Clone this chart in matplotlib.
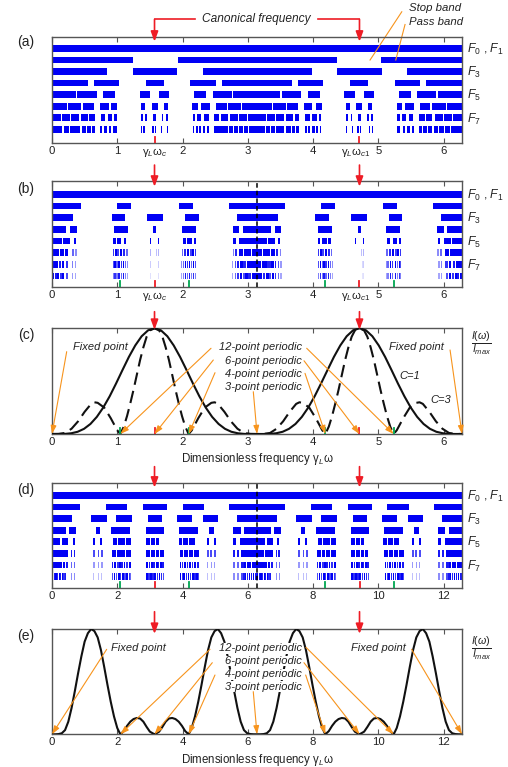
import numpy as np
import matplotlib
matplotlib.use('Agg')
import matplotlib.pyplot as plt
from matplotlib.transforms import blended_transform_factory as btf

plt.rcParams['font.family'] = ['Liberation Sans', 'DejaVu Sans']
plt.rcParams['mathtext.fontset'] = 'custom'
plt.rcParams['mathtext.rm'] = 'Liberation Sans'
plt.rcParams['mathtext.it'] = 'Liberation Sans:italic'
plt.rcParams['mathtext.bf'] = 'Liberation Sans:bold'

BLUE = (0.0, 0.0, 0.96)
RED = '#EE1C25'
GREEN = '#00A651'
ORANGE = '#F7941D'
SPINE = '#555555'
TXT = '#222222'

# ---------------- data ----------------
CANON_A = [1.571, 4.712]          # canonical frequencies, panels a-c
CANON_D = [3.142, 9.425]          # canonical frequencies, panels d-e
GREEN_B = [1.047, 2.094, 4.189, 5.236]
GREEN_D = [2.094, 4.189, 8.378, 10.472]
TICKS_A = [0, 1, 2, 3, 4, 5, 6]
TICKS_D = [0, 2, 4, 6, 8, 10, 12]

# panel (a) pass bands, rows F0/F1 ... F8
A_F01 = [(0, 6.283)]
A_F2 = [(0, 1.24), (1.93, 4.36), (5.04, 6.283)]
A_F3 = [(0, 0.85), (1.24, 1.92), (2.31, 3.98), (4.37, 5.05), (5.44, 6.283)]
A_F4 = [(0, 0.55), (0.645, 1.03), (1.44, 1.72), (2.12, 2.51), (2.60, 3.68), (3.77, 4.16),
        (4.56, 4.84), (5.25, 5.64), (5.73, 6.283)]
A_F5 = [(0, 0.365), (0.39, 0.69), (0.787, 0.97), (1.347, 1.505), (1.64, 1.80), (2.176, 2.36),
        (2.46, 2.76), (2.78, 3.50), (3.52, 3.82), (3.92, 4.11), (4.48, 4.64), (4.78, 4.94),
        (5.31, 5.50), (5.59, 5.89), (5.92, 6.283)]
A_F6 = [(0, 0.23), (0.24, 0.45), (0.48, 0.645), (0.73, 0.87), (0.91, 1.0), (1.37, 1.43),
        (1.53, 1.62), (1.71, 1.77), (2.15, 2.24), (2.29, 2.42), (2.51, 2.68), (2.70, 2.90),
        (2.91, 3.37), (3.38, 3.58), (3.60, 3.77), (3.86, 3.99), (4.04, 4.13), (4.51, 4.57),
        (4.66, 4.75), (4.85, 4.91), (5.28, 5.37), (5.41, 5.55), (5.64, 5.80), (5.83, 6.04),
        (6.05, 6.283)]
A_F7 = [(0, 0.14), (0.15, 0.28), (0.29, 0.41), (0.45, 0.55), (0.57, 0.66), (0.75, 0.81),
        (0.86, 0.92), (0.95, 0.99), (1.36, 1.39), (1.42, 1.45), (1.55, 1.59), (1.68, 1.70),
        (1.75, 1.78), (2.16, 2.19), (2.22, 2.29), (2.33, 2.40), (2.49, 2.56), (2.59, 2.70),
        (2.73, 2.85), (2.87, 2.99), (3.0, 3.28), (3.29, 3.41), (3.43, 3.55), (3.58, 3.69),
        (3.72, 3.79), (3.88, 3.95), (3.99, 4.06), (4.09, 4.12), (4.50, 4.53), (4.58, 4.60),
        (4.69, 4.73), (4.83, 4.86), (4.89, 4.92), (5.29, 5.33), (5.36, 5.42), (5.47, 5.53),
        (5.62, 5.71), (5.73, 5.83), (5.87, 5.99), (6.00, 6.13), (6.14, 6.283)]
A_F8 = [(0, 0.07), (0.08, 0.16), (0.18, 0.26), (0.28, 0.35), (0.36, 0.43), (0.46, 0.52),
        (0.53, 0.59), (0.61, 0.66), (0.74, 0.77), (0.79, 0.84), (0.87, 0.90), (0.94, 0.99),
        (1.36, 1.38), (1.40, 1.42), (1.54, 1.56), (1.58, 1.60), (1.67, 1.69), (1.71, 1.72),
        (1.76, 1.78), (2.16, 2.18), (2.20, 2.23), (2.25, 2.29), (2.32, 2.35), (2.37, 2.41),
        (2.49, 2.54), (2.55, 2.60), (2.61, 2.69), (2.72, 2.78), (2.79, 2.85), (2.86, 2.93),
        (2.94, 3.0), (3.02, 3.26), (3.28, 3.34), (3.35, 3.42), (3.43, 3.49), (3.50, 3.56),
        (3.59, 3.67), (3.68, 3.73), (3.74, 3.79), (3.87, 3.91), (3.93, 3.96), (3.99, 4.03),
        (4.05, 4.08), (4.10, 4.12), (4.50, 4.52), (4.56, 4.57), (4.59, 4.61), (4.68, 4.70),
        (4.72, 4.74), (4.86, 4.88), (4.90, 4.92), (5.29, 5.34), (5.38, 5.41), (5.44, 5.49),
        (5.51, 5.54), (5.62, 5.67), (5.69, 5.75), (5.76, 5.82), (5.85, 5.92), (5.93, 6.0),
        (6.02, 6.10), (6.12, 6.20), (6.21, 6.283)]

# panel (b) pass bands (start, end[, opacity])
B_F01 = [(0, 6.283)]
B_F2 = [(0, 0.44), (1.0, 1.21), (1.95, 2.16), (2.72, 3.57), (4.12, 4.33), (5.07, 5.28), (5.84, 6.283)]
B_F3 = [(0, 0.32), (0.92, 1.12), (1.45, 1.70), (2.04, 2.25), (2.83, 3.46), (4.03, 4.24),
        (4.58, 4.83), (5.16, 5.36), (5.96, 6.283)]
B_F4 = [(0, 0.22), (0.28, 0.385), (0.95, 1.16), (1.555, 1.595), (1.99, 2.20), (2.77, 2.87),
        (2.93, 3.35), (3.41, 3.51), (4.08, 4.29), (4.69, 4.73), (5.12, 5.33), (5.90, 6.0),
        (6.06, 6.283)]
B_F5 = [(0, 0.15), (0.17, 0.27), (0.33, 0.365), (0.93, 0.975), (1.0, 1.06), (1.10, 1.14),
        (1.50, 1.52), (1.62, 1.64), (2.0, 2.05), (2.07, 2.14), (2.17, 2.21), (2.78, 2.82),
        (2.86, 2.97), (2.98, 3.30), (3.31, 3.42), (3.46, 3.50), (4.07, 4.11), (4.14, 4.21),
        (4.23, 4.28), (4.64, 4.66), (4.76, 4.78), (5.14, 5.18), (5.22, 5.28), (5.31, 5.35),
        (5.92, 5.95), (6.01, 6.11), (6.13, 6.283)]
B_F6 = [(0.00, 0.10, 1.0), (0.115, 0.18, 1.0), (0.205, 0.25, 1.0), (0.31, 0.33, 0.6), (0.35, 0.38, 0.45),
        (0.93, 0.95, 0.8), (0.96, 0.99, 1.0), (1.00, 1.03, 0.75), (1.045, 1.075, 1.0), (1.09, 1.12, 0.85),
        (1.13, 1.16, 0.6), (1.50, 1.51, 0.3), (1.53, 1.54, 0.25), (1.60, 1.61, 0.25), (1.63, 1.64, 0.3),
        (1.99, 2.01, 0.6), (2.02, 2.05, 0.85), (2.065, 2.095, 1.0), (2.11, 2.14, 0.75), (2.15, 2.18, 1.0),
        (2.19, 2.21, 0.8), (2.77, 2.79, 0.5), (2.81, 2.84, 0.85), (2.87, 2.93, 1.0), (2.945, 3.05, 1.0),
        (3.06, 3.22, 1.0), (3.23, 3.34, 1.0), (3.35, 3.41, 1.0), (3.44, 3.47, 0.85), (3.49, 3.51, 0.5),
        (4.07, 4.09, 0.8), (4.10, 4.13, 1.0), (4.14, 4.17, 0.75), (4.19, 4.22, 1.0), (4.23, 4.26, 0.85),
        (4.27, 4.29, 0.6), (4.64, 4.65, 0.3), (4.67, 4.68, 0.25), (4.74, 4.75, 0.25), (4.77, 4.78, 0.3),
        (5.12, 5.15, 0.6), (5.16, 5.19, 0.85), (5.21, 5.24, 1.0), (5.25, 5.28, 0.75), (5.29, 5.32, 1.0),
        (5.33, 5.35, 0.8), (5.90, 5.93, 0.45), (5.95, 5.97, 0.6), (6.03, 6.08, 1.0), (6.10, 6.17, 1.0),
        (6.18, 6.283, 1.0)]
B_F7 = [(0.00, 0.04, 1), (0.05, 0.09, 1), (0.10, 0.14, 0.9), (0.16, 0.19, 1), (0.21, 0.25, 0.8),
        (0.30, 0.32, 0.5), (0.345, 0.37, 0.4), (0.93, 0.945, 0.7), (0.955, 0.975, 1), (0.985, 1.005, 0.6),
        (1.015, 1.035, 1), (1.05, 1.07, 0.8), (1.085, 1.105, 1), (1.12, 1.14, 0.6), (1.15, 1.165, 0.45),
        (1.50, 1.51, 0.2), (1.525, 1.535, 0.15), (1.605, 1.615, 0.15), (1.63, 1.64, 0.2),
        (1.98, 1.995, 0.45), (2.005, 2.025, 0.6), (2.035, 2.055, 1), (2.07, 2.09, 0.8), (2.10, 2.12, 1),
        (2.13, 2.15, 0.6), (2.16, 2.18, 1), (2.19, 2.21, 0.7), (2.76, 2.78, 0.4), (2.80, 2.82, 0.7),
        (2.84, 2.86, 0.9), (2.88, 2.92, 1), (2.93, 2.98, 0.85), (2.99, 3.06, 1), (3.07, 3.21, 1),
        (3.22, 3.29, 1), (3.30, 3.35, 0.85), (3.36, 3.40, 1), (3.42, 3.44, 0.9), (3.46, 3.48, 0.7),
        (3.50, 3.52, 0.4), (4.07, 4.09, 0.7), (4.10, 4.12, 1), (4.13, 4.15, 0.6), (4.16, 4.18, 1),
        (4.19, 4.21, 0.8), (4.23, 4.25, 1), (4.26, 4.28, 0.6), (4.29, 4.30, 0.45), (4.64, 4.65, 0.2),
        (4.67, 4.68, 0.15), (4.75, 4.76, 0.15), (4.77, 4.78, 0.2), (5.12, 5.13, 0.45), (5.14, 5.16, 0.6),
        (5.18, 5.20, 1), (5.21, 5.23, 0.8), (5.25, 5.27, 1), (5.28, 5.30, 0.6), (5.31, 5.33, 1),
        (5.34, 5.35, 0.7), (5.91, 5.94, 0.4), (5.96, 5.98, 0.5), (6.03, 6.07, 0.8), (6.09, 6.12, 1),
        (6.14, 6.18, 0.9), (6.19, 6.23, 1), (6.24, 6.283, 1)]
B_F8 = [(0.00, 0.03, 1), (0.04, 0.07, 0.9), (0.08, 0.11, 1), (0.12, 0.15, 0.8), (0.16, 0.19, 1),
        (0.21, 0.24, 0.7), (0.30, 0.32, 0.4), (0.345, 0.37, 0.35), (0.93, 0.945, 0.5), (0.955, 0.975, 0.8),
        (0.985, 1.005, 0.5), (1.015, 1.035, 0.9), (1.05, 1.07, 0.6), (1.085, 1.105, 0.9), (1.12, 1.14, 0.5),
        (1.15, 1.165, 0.35), (1.50, 1.51, 0.12), (1.525, 1.535, 0.1), (1.605, 1.615, 0.1), (1.63, 1.64, 0.12),
        (1.98, 1.995, 0.35), (2.005, 2.025, 0.5), (2.035, 2.055, 0.9), (2.07, 2.09, 0.6), (2.10, 2.12, 0.9),
        (2.13, 2.15, 0.5), (2.16, 2.18, 0.8), (2.19, 2.21, 0.5), (2.76, 2.78, 0.35), (2.80, 2.82, 0.6),
        (2.84, 2.86, 0.8), (2.88, 2.91, 1), (2.92, 2.95, 0.7), (2.96, 3.0, 1), (3.01, 3.05, 0.85),
        (3.06, 3.22, 1), (3.23, 3.27, 0.85), (3.28, 3.32, 1), (3.33, 3.36, 0.7), (3.37, 3.40, 1),
        (3.42, 3.44, 0.8), (3.46, 3.48, 0.6), (3.50, 3.52, 0.35), (4.07, 4.09, 0.5), (4.10, 4.12, 0.8),
        (4.13, 4.15, 0.5), (4.16, 4.18, 0.9), (4.19, 4.21, 0.6), (4.23, 4.25, 0.9), (4.26, 4.28, 0.5),
        (4.29, 4.30, 0.35), (4.64, 4.65, 0.12), (4.67, 4.68, 0.1), (4.75, 4.76, 0.1), (4.77, 4.78, 0.12),
        (5.12, 5.13, 0.35), (5.14, 5.16, 0.5), (5.18, 5.20, 0.9), (5.21, 5.23, 0.6), (5.25, 5.27, 0.9),
        (5.28, 5.30, 0.5), (5.31, 5.33, 0.8), (5.34, 5.35, 0.5), (5.91, 5.94, 0.35), (5.96, 5.98, 0.4),
        (6.04, 6.07, 0.7), (6.09, 6.12, 1), (6.13, 6.16, 0.8), (6.17, 6.20, 1), (6.21, 6.24, 0.9),
        (6.25, 6.283, 1)]

# panel (d) pass bands
D_F01 = [(0, 12.566)]
D_F2 = [(0, 0.86), (1.65, 2.31), (2.78, 3.52), (4.0, 4.65), (5.44, 7.14), (7.93, 8.59),
        (9.06, 9.80), (10.28, 10.93), (11.72, 12.566)]
D_F3 = [(0, 0.61), (1.20, 1.69), (1.95, 2.46), (2.93, 3.38), (3.84, 4.30), (4.62, 5.09),
        (5.68, 6.89), (7.48, 7.97), (8.23, 8.74), (9.21, 9.66), (10.12, 10.58), (10.90, 11.37),
        (11.96, 12.566)]
D_F4 = [(0, 0.42), (0.53, 0.74), (1.34, 1.47), (1.81, 2.40), (2.87, 3.44), (3.90, 4.49),
        (4.82, 4.96), (5.56, 5.78), (5.88, 6.70), (6.81, 7.02), (7.62, 7.75), (8.09, 8.68),
        (9.15, 9.72), (10.18, 10.77), (11.10, 11.24), (11.84, 12.06), (12.16, 12.566)]
D_F5 = [(0, 0.24), (0.30, 0.50), (0.63, 0.69), (1.27, 1.32), (1.47, 1.54), (1.86, 1.98),
        (2.02, 2.24), (2.27, 2.42), (2.87, 3.01), (3.04, 3.16), (3.18, 3.29), (3.88, 3.99),
        (4.02, 4.17), (4.20, 4.37), (4.75, 4.81), (4.96, 5.03), (5.56, 5.65), (5.75, 5.91),
        (5.93, 6.52), (6.58, 6.78), (6.91, 6.97), (7.55, 7.60), (7.75, 7.82), (8.14, 8.26),
        (8.30, 8.52), (8.55, 8.70), (9.15, 9.29), (9.32, 9.44), (9.46, 9.57), (10.16, 10.27),
        (10.30, 10.45), (10.48, 10.65), (11.03, 11.09), (11.24, 11.31), (11.84, 11.93),
        (12.03, 12.19), (12.21, 12.566)]
D_F6 = [(0, 0.23, 1), (0.25, 0.48, 1), (0.58, 0.62, 0.9), (0.66, 0.72, 0.9),
        (1.27, 1.32, 0.7), (1.40, 1.45, 0.7), (1.50, 1.56, 0.7),
        (1.83, 1.96, 1), (1.98, 2.10, 1), (2.13, 2.25, 1), (2.28, 2.43, 1),
        (2.89, 3.01, 1), (3.03, 3.16, 1), (3.19, 3.29, 1), (3.31, 3.42, 1),
        (3.91, 4.03, 1), (4.06, 4.18, 1), (4.21, 4.33, 1), (4.36, 4.50, 1),
        (4.75, 4.80, 0.7), (4.85, 4.90, 0.7), (4.97, 5.02, 0.7),
        (5.56, 5.62, 0.9), (5.66, 5.72, 0.9), (5.80, 6.03, 1), (6.05, 6.51, 1),
        (6.53, 6.76, 1), (6.86, 6.90, 0.9), (6.94, 7.00, 0.9),
        (7.55, 7.60, 0.7), (7.68, 7.73, 0.7), (7.78, 7.84, 0.7),
        (8.11, 8.24, 1), (8.26, 8.38, 1), (8.41, 8.53, 1), (8.56, 8.71, 1),
        (9.17, 9.29, 1), (9.31, 9.44, 1), (9.47, 9.57, 1), (9.59, 9.70, 1),
        (10.19, 10.31, 1), (10.34, 10.46, 1), (10.49, 10.61, 1), (10.64, 10.78, 1),
        (11.03, 11.08, 0.7), (11.13, 11.18, 0.7), (11.25, 11.30, 0.7),
        (11.84, 11.90, 0.9), (11.94, 12.00, 0.9), (12.08, 12.31, 1), (12.33, 12.566, 1)]
D_F7 = [(0, 0.06, 1), (0.075, 0.14, 1), (0.155, 0.23, 1), (0.25, 0.32, 1), (0.335, 0.40, 1),
        (0.415, 0.48, 0.9), (0.58, 0.62, 0.6), (0.66, 0.72, 0.6),
        (1.27, 1.31, 0.4), (1.40, 1.44, 0.4), (1.51, 1.55, 0.4),
        (1.83, 1.88, 0.9), (1.90, 1.96, 1), (1.98, 2.04, 0.8), (2.06, 2.10, 1), (2.13, 2.18, 0.9),
        (2.20, 2.25, 1), (2.28, 2.34, 0.8), (2.37, 2.43, 1),
        (2.89, 2.94, 1), (2.96, 3.01, 0.9), (3.03, 3.09, 1), (3.11, 3.16, 0.9), (3.19, 3.24, 1),
        (3.26, 3.29, 0.9), (3.31, 3.36, 1), (3.38, 3.42, 0.9),
        (3.91, 3.96, 1), (3.98, 4.03, 0.85), (4.06, 4.11, 1), (4.13, 4.18, 0.9), (4.21, 4.26, 1),
        (4.28, 4.33, 0.85), (4.36, 4.42, 1), (4.44, 4.50, 0.9),
        (4.75, 4.79, 0.4), (4.86, 4.90, 0.4), (4.97, 5.01, 0.4),
        (5.56, 5.62, 0.6), (5.66, 5.72, 0.6), (5.80, 5.87, 0.9), (5.885, 5.95, 1), (5.965, 6.03, 1),
        (6.05, 6.11, 1), (6.125, 6.19, 1), (6.205, 6.27, 1),
        (6.283, 6.343, 1), (6.358, 6.423, 1), (6.438, 6.513, 1), (6.533, 6.603, 1), (6.618, 6.683, 1),
        (6.698, 6.763, 0.9), (6.863, 6.903, 0.6), (6.943, 7.003, 0.6),
        (7.553, 7.593, 0.4), (7.683, 7.723, 0.4), (7.793, 7.833, 0.4),
        (8.113, 8.163, 0.9), (8.183, 8.243, 1), (8.263, 8.323, 0.8), (8.343, 8.383, 1),
        (8.413, 8.463, 0.9), (8.483, 8.533, 1), (8.563, 8.623, 0.8), (8.653, 8.713, 1),
        (9.173, 9.223, 1), (9.243, 9.293, 0.9), (9.313, 9.373, 1), (9.393, 9.443, 0.9),
        (9.473, 9.523, 1), (9.543, 9.573, 0.9), (9.593, 9.643, 1), (9.663, 9.703, 0.9),
        (10.193, 10.243, 1), (10.263, 10.313, 0.85), (10.343, 10.393, 1), (10.413, 10.463, 0.9),
        (10.493, 10.543, 1), (10.563, 10.613, 0.85), (10.643, 10.703, 1), (10.723, 10.783, 0.9),
        (11.033, 11.073, 0.4), (11.143, 11.183, 0.4), (11.253, 11.293, 0.4),
        (11.843, 11.903, 0.6), (11.943, 12.003, 0.6), (12.083, 12.153, 0.9), (12.168, 12.233, 1),
        (12.248, 12.313, 1), (12.333, 12.393, 1), (12.408, 12.473, 1), (12.488, 12.566, 1)]
D_F8 = [(0, 0.04, 1), (0.05, 0.09, 0.9), (0.10, 0.14, 1), (0.155, 0.19, 0.85), (0.20, 0.24, 1),
        (0.25, 0.29, 0.9), (0.30, 0.34, 1), (0.35, 0.39, 0.8), (0.40, 0.44, 0.9), (0.58, 0.62, 0.45),
        (0.66, 0.72, 0.45),
        (1.27, 1.30, 0.25), (1.40, 1.43, 0.25), (1.51, 1.54, 0.25),
        (1.83, 1.87, 0.7), (1.89, 1.94, 1), (1.96, 2.00, 0.7), (2.02, 2.07, 1), (2.09, 2.13, 0.8),
        (2.15, 2.20, 1), (2.22, 2.26, 0.7), (2.28, 2.33, 1), (2.35, 2.39, 0.8), (2.40, 2.43, 0.6),
        (2.89, 2.93, 1), (2.95, 2.99, 0.8), (3.01, 3.06, 1), (3.08, 3.12, 0.85), (3.14, 3.19, 1),
        (3.21, 3.25, 0.8), (3.27, 3.32, 1), (3.34, 3.38, 0.85), (3.39, 3.42, 0.7),
        (3.91, 3.95, 1), (3.97, 4.01, 0.8), (4.03, 4.08, 1), (4.10, 4.14, 0.85), (4.16, 4.21, 1),
        (4.23, 4.27, 0.8), (4.29, 4.34, 1), (4.36, 4.40, 0.85), (4.42, 4.46, 1), (4.47, 4.50, 0.7),
        (4.75, 4.78, 0.25), (4.86, 4.89, 0.25), (4.97, 5.00, 0.25),
        (5.56, 5.62, 0.45), (5.66, 5.72, 0.45), (5.80, 5.84, 0.7), (5.86, 5.90, 0.9), (5.92, 5.96, 1),
        (5.98, 6.02, 0.85), (6.04, 6.08, 1), (6.10, 6.14, 0.9), (6.16, 6.20, 1), (6.22, 6.27, 0.9),
        (6.283, 6.323, 1), (6.333, 6.373, 0.9), (6.383, 6.423, 1), (6.438, 6.473, 0.85), (6.483, 6.523, 1),
        (6.533, 6.573, 0.9), (6.583, 6.623, 1), (6.633, 6.673, 0.8), (6.683, 6.723, 0.9),
        (6.863, 6.903, 0.45), (6.943, 7.003, 0.45),
        (7.553, 7.583, 0.25), (7.683, 7.713, 0.25), (7.793, 7.823, 0.25),
        (8.113, 8.153, 0.7), (8.173, 8.223, 1), (8.243, 8.283, 0.7), (8.303, 8.353, 1), (8.373, 8.413, 0.8),
        (8.433, 8.483, 1), (8.503, 8.543, 0.7), (8.563, 8.613, 1), (8.633, 8.673, 0.8), (8.683, 8.713, 0.6),
        (9.173, 9.213, 1), (9.233, 9.273, 0.8), (9.293, 9.343, 1), (9.363, 9.403, 0.85), (9.423, 9.473, 1),
        (9.493, 9.533, 0.8), (9.553, 9.603, 1), (9.623, 9.663, 0.85), (9.673, 9.703, 0.7),
        (10.193, 10.233, 1), (10.253, 10.293, 0.8), (10.313, 10.363, 1), (10.383, 10.423, 0.85),
        (10.443, 10.493, 1), (10.513, 10.553, 0.8), (10.573, 10.623, 1), (10.643, 10.683, 0.85),
        (10.703, 10.743, 1), (10.753, 10.783, 0.7),
        (11.033, 11.063, 0.25), (11.143, 11.173, 0.25), (11.253, 11.283, 0.25),
        (11.843, 11.903, 0.45), (11.943, 12.003, 0.45), (12.083, 12.123, 0.7), (12.143, 12.183, 0.9),
        (12.203, 12.243, 1), (12.263, 12.303, 0.85), (12.323, 12.363, 1), (12.383, 12.423, 0.9),
        (12.443, 12.483, 1), (12.503, 12.566, 0.9)]

# panel (c) intensity curves
C_X = [0, 0.098, 0.196, 0.295, 0.393, 0.491, 0.589, 0.687, 0.785, 0.884, 0.982, 1.080, 1.178,
       1.276, 1.374, 1.473, 1.571, 1.669, 1.767, 1.865, 1.963, 2.062, 2.160, 2.258, 2.356, 2.454,
       2.553, 2.651, 2.749, 2.847, 2.945, 3.043, 3.142, 3.240, 3.338, 3.436, 3.534, 3.632, 3.731,
       3.829, 3.927, 4.025, 4.123, 4.222, 4.320, 4.418, 4.516, 4.614, 4.712, 4.811, 4.909, 5.007,
       5.105, 5.203, 5.301, 5.400, 5.498, 5.596, 5.694, 5.792, 5.890, 5.989, 6.087, 6.185, 6.283]
C1_Y = [0, 0.0001, 0.001, 0.007, 0.021, 0.049, 0.095, 0.162, 0.25, 0.357, 0.478, 0.605, 0.729,
        0.838, 0.925, 0.981, 1.0, 0.981, 0.925, 0.838, 0.729, 0.605, 0.478, 0.357, 0.25, 0.162,
        0.095, 0.049, 0.021, 0.007, 0.001, 0.0001, 0, 0.0001, 0.001, 0.007, 0.021, 0.049, 0.095,
        0.162, 0.25, 0.357, 0.478, 0.605, 0.729, 0.838, 0.925, 0.981, 1.0, 0.981, 0.925, 0.838,
        0.729, 0.605, 0.478, 0.357, 0.25, 0.162, 0.095, 0.049, 0.021, 0.007, 0.001, 0.0001, 0]
C3_X = [0, 0.1, 0.2, 0.3, 0.4, 0.5, 0.6, 0.65, 0.7, 0.8, 0.9, 1.0, 1.047, 1.1, 1.15, 1.2, 1.25,
        1.3, 1.35, 1.4, 1.45, 1.5, 1.571,
        1.642, 1.692, 1.742, 1.792, 1.842, 1.892, 1.942, 1.992, 2.042, 2.094, 2.142, 2.242, 2.342,
        2.442, 2.492, 2.542, 2.642, 2.742, 2.842, 2.942, 3.042, 3.142,
        3.242, 3.342, 3.442, 3.542, 3.642, 3.742, 3.792, 3.842, 3.942, 4.042, 4.142, 4.189, 4.242,
        4.292, 4.342, 4.392, 4.442, 4.492, 4.542, 4.592, 4.642, 4.712,
        4.783, 4.833, 4.883, 4.933, 4.983, 5.033, 5.083, 5.133, 5.183, 5.236, 5.283, 5.383, 5.483,
        5.583, 5.633, 5.683, 5.783, 5.883, 5.983, 6.083, 6.183, 6.283]
C3_Y = [0, 0.001, 0.01, 0.05, 0.12, 0.21, 0.285, 0.30, 0.295, 0.25, 0.15, 0.035, 0, 0.07, 0.17,
        0.29, 0.42, 0.56, 0.70, 0.82, 0.92, 0.98, 1.0,
        0.98, 0.92, 0.82, 0.70, 0.56, 0.42, 0.29, 0.17, 0.07, 0, 0.035, 0.15, 0.25, 0.295, 0.30,
        0.285, 0.21, 0.12, 0.05, 0.01, 0.001, 0,
        0.001, 0.01, 0.05, 0.12, 0.21, 0.285, 0.30, 0.295, 0.25, 0.15, 0.035, 0, 0.07, 0.17, 0.29,
        0.42, 0.56, 0.70, 0.82, 0.92, 0.98, 1.0,
        0.98, 0.92, 0.82, 0.70, 0.56, 0.42, 0.29, 0.17, 0.07, 0, 0.035, 0.15, 0.25, 0.295, 0.30,
        0.285, 0.21, 0.12, 0.05, 0.01, 0.001, 0]

# panel (e) intensity curve
E_X = [0, 0.1, 0.2, 0.3, 0.4, 0.5, 0.6, 0.7, 0.8, 0.9, 1.0, 1.1, 1.2, 1.3, 1.4, 1.5, 1.6, 1.7,
       1.8, 1.9, 2.0, 2.094, 2.2, 2.3, 2.4, 2.5, 2.6, 2.7, 2.8, 2.9, 3.0, 3.142,
       3.283, 3.383, 3.483, 3.583, 3.683, 3.783, 3.883, 3.983, 4.083, 4.189, 4.283, 4.383, 4.483,
       4.583, 4.683, 4.783, 4.883, 4.983, 5.083, 5.183, 5.283, 5.383, 5.483, 5.583, 5.683, 5.783,
       5.883, 5.983, 6.083, 6.183, 6.283,
       6.383, 6.483, 6.583, 6.683, 6.783, 6.883, 6.983, 7.083, 7.183, 7.283, 7.383, 7.483, 7.583,
       7.683, 7.783, 7.883, 7.983, 8.083, 8.183, 8.283, 8.377, 8.483, 8.583, 8.683, 8.783, 8.883,
       8.983, 9.083, 9.183, 9.283, 9.425,
       9.566, 9.666, 9.766, 9.866, 9.966, 10.066, 10.166, 10.266, 10.366, 10.472, 10.566, 10.666,
       10.766, 10.866, 10.966, 11.066, 11.166, 11.266, 11.366, 11.466, 11.566, 11.666, 11.766,
       11.866, 11.966, 12.066, 12.166, 12.266, 12.366, 12.466, 12.566]
E_Y = [0, 0, 0.002, 0.01, 0.04, 0.12, 0.25, 0.41, 0.58, 0.74, 0.88, 0.96, 1.0, 0.98, 0.92, 0.80,
       0.64, 0.47, 0.31, 0.17, 0.06, 0, 0.03, 0.08, 0.12, 0.145, 0.155, 0.15, 0.12, 0.07, 0.025, 0,
       0.025, 0.07, 0.12, 0.15, 0.155, 0.145, 0.12, 0.08, 0.03, 0, 0.06, 0.17, 0.31, 0.47, 0.64,
       0.80, 0.92, 0.98, 1.0, 0.96, 0.88, 0.74, 0.58, 0.41, 0.25, 0.12, 0.04, 0.01, 0.002, 0, 0,
       0, 0.002, 0.01, 0.04, 0.12, 0.25, 0.41, 0.58, 0.74, 0.88, 0.96, 1.0, 0.98, 0.92, 0.80, 0.64,
       0.47, 0.31, 0.17, 0.06, 0, 0.03, 0.08, 0.12, 0.145, 0.155, 0.15, 0.12, 0.07, 0.025, 0,
       0.025, 0.07, 0.12, 0.15, 0.155, 0.145, 0.12, 0.08, 0.03, 0, 0.06, 0.17, 0.31, 0.47, 0.64,
       0.80, 0.92, 0.98, 1.0, 0.96, 0.88, 0.74, 0.58, 0.41, 0.25, 0.12, 0.04, 0.01, 0.002, 0, 0]

ROWS_A = [A_F01, A_F2, A_F3, A_F4, A_F5, A_F6, A_F7, A_F8]
ROWS_B = [B_F01, B_F2, B_F3, B_F4, B_F5, B_F6, B_F7, B_F8]
ROWS_D = [D_F01, D_F2, D_F3, D_F4, D_F5, D_F6, D_F7, D_F8]

# ---------------- figure ----------------
fig = plt.figure(figsize=(5.08, 7.67), dpi=100)
L, W = 52 / 508, 410 / 508
TICKFS = 8.2


def add_ax(top, bottom):
    return fig.add_axes([L, 1 - bottom / 767, W, (bottom - top) / 767])


def style(ax, xmax, ticks):
    ax.set_xlim(0, xmax)
    for s in ax.spines.values():
        s.set_color(SPINE)
        s.set_linewidth(1.0)
    ax.set_xticks(ticks)
    ax.set_xticklabels([str(t) for t in ticks])
    ax.tick_params(axis='x', direction='in', top=True, bottom=True, length=3.5, width=0.8,
                   color=SPINE, labelsize=TICKFS, pad=2.2, labelcolor=TXT)
    ax.set_yticks([])


def draw_bands(ax, rows, h=0.58):
    for i, segs in enumerate(rows):
        xr = [(s[0], s[1] - s[0]) for s in segs]
        cols = [BLUE + ((s[2] if len(s) > 2 else 1.0),) for s in segs]
        ax.broken_barh(xr, (i - h / 2, h), facecolors=cols, edgecolor='none', linewidth=0, zorder=2)


def flabels(ax):
    tr = btf(ax.transAxes, ax.transData)
    ax.text(1.012, 0.1, r'$F_{\mathit{0}}$ , $F_{\mathit{1}}$', transform=tr, va='center', ha='left',
            fontsize=8.8, color=TXT)
    for r, n in [(2, 3), (4, 5), (6, 7)]:
        ax.text(1.012, r + 0.1, r'$F_{\mathit{%d}}$' % n, transform=tr, va='center', ha='left',
                fontsize=8.8, color=TXT)


def red_arrow(ax, x, y0, y1):
    ax.annotate('', xy=(x, y1), xycoords=('data', 'axes fraction'), xytext=(x, y0),
                textcoords=('data', 'axes fraction'),
                arrowprops=dict(arrowstyle='-|>,head_length=0.6,head_width=0.22', color=RED, lw=1.2,
                                mutation_scale=10, shrinkA=0, shrinkB=0),
                annotation_clip=False, zorder=6)


def color_ticks(ax, xs, color, top=0.055):
    for x in xs:
        ax.axvline(x, ymin=0, ymax=top, color=color, lw=1.3, zorder=6)


def oarrow(ax, x0, y0, x1, y1):
    ax.annotate('', xy=(x1, y1), xytext=(x0, y0),
                arrowprops=dict(arrowstyle='-|>,head_length=0.5,head_width=0.17', color=ORANGE, lw=0.8,
                                mutation_scale=10, shrinkA=0, shrinkB=0),
                annotation_clip=False, zorder=7)


def itext(ax, x, y, s, ha='center', size=8, box=False):
    kw = dict(ha=ha, va='center', style='italic', fontsize=size, color=TXT, zorder=5)
    if box:
        kw['bbox'] = dict(fc='white', ec='none', pad=0.2)
    ax.text(x, y, s, **kw)


GL_C = r'$\mathrm{\gamma}_{L}\mathrm{\omega}_{c}$'
GL_C1 = r'$\mathrm{\gamma}_{L}\mathrm{\omega}_{c1}$'

# ---- (a)
axa = add_ax(36.7, 142.7)
style(axa, 6.283, TICKS_A)
axa.set_ylim(8.15, -1.0)
draw_bands(axa, ROWS_A)
flabels(axa)
color_ticks(axa, CANON_A, RED)
ta = btf(axa.transData, axa.transAxes)
axa.text(CANON_A[0], -0.03, GL_C, transform=ta, ha='center', va='top', fontsize=TICKFS, color=TXT)
axa.text(CANON_A[1] - 0.06, -0.03, GL_C1, transform=ta, ha='center', va='top', fontsize=TICKFS, color=TXT)
for x in CANON_A:
    red_arrow(axa, x, 1.164, 0.953)
axa.plot([CANON_A[0], 2.19], [1.164, 1.164], color=RED, lw=1.2, transform=ta, clip_on=False)
axa.plot([4.08, CANON_A[1]], [1.164, 1.164], color=RED, lw=1.2, transform=ta, clip_on=False)
axa.text(3.136, 1.164, 'Canonical frequency', transform=ta, ha='center', va='center',
         style='italic', fontsize=8.6, color=TXT)
axa.text(5.87, 1.268, 'Stop band', transform=ta, ha='center', va='center', style='italic',
         fontsize=8.2, color=TXT)
axa.text(5.88, 1.139, 'Pass band', transform=ta, ha='center', va='center', style='italic',
         fontsize=8.2, color=TXT)
axa.plot([5.36, 4.874], [1.235, 0.78], color=ORANGE, lw=0.8, transform=ta, clip_on=False)
axa.plot([5.41, 5.268], [1.115, 0.78], color=ORANGE, lw=0.8, transform=ta, clip_on=False)

# ---- (b)
axb = add_ax(181, 287.3)
style(axb, 6.283, TICKS_A)
axb.set_ylim(7.97, -1.14)
draw_bands(axb, ROWS_B)
flabels(axb)
color_ticks(axb, CANON_A, RED)
color_ticks(axb, GREEN_B, GREEN)
axb.axvline(3.1416, color='k', lw=1.1, ls=(0, (3, 2)), zorder=5)
tb = btf(axb.transData, axb.transAxes)
axb.text(CANON_A[0], -0.03, GL_C, transform=tb, ha='center', va='top', fontsize=TICKFS, color=TXT)
axb.text(CANON_A[1] - 0.06, -0.03, GL_C1, transform=tb, ha='center', va='top', fontsize=TICKFS, color=TXT)
for x in CANON_A:
    red_arrow(axb, x, 1.15, 0.946)

# ---- (c)
axc = add_ax(328.3, 434)
style(axc, 6.283, TICKS_A)
axc.set_ylim(0, 1.0)
axc.plot(C_X, C1_Y, color='#111111', lw=1.5, zorder=3)
axc.plot(C3_X, C3_Y, color='#111111', lw=1.5, dashes=(6, 3), zorder=3)
color_ticks(axc, CANON_A, RED)
color_ticks(axc, GREEN_B, GREEN)
for x in CANON_A:
    red_arrow(axc, x, 1.157, 0.985)
itext(axc, 0.736, 0.819, 'Fixed point', box=True)
itext(axc, 5.59, 0.819, 'Fixed point', box=True)
itext(axc, 3.83, 0.819, '12-point periodic', ha='right')
itext(axc, 3.83, 0.693, '6-point periodic', ha='right')
itext(axc, 3.83, 0.568, '4-point periodic', ha='right')
itext(axc, 3.83, 0.447, '3-point periodic', ha='right')
itext(axc, 5.487, 0.549, 'C=1')
itext(axc, 5.95, 0.32, 'C=3')
oarrow(axc, 0.225, 0.779, 0.0, 0.0)
oarrow(axc, 6.10, 0.795, 6.283, 0.0)
oarrow(axc, 2.437, 0.811, 1.047, 0.0)
oarrow(axc, 3.903, 0.811, 5.236, 0.0)
oarrow(axc, 2.472, 0.70, 1.571, 0.0)
oarrow(axc, 3.862, 0.693, 4.712, 0.0)
oarrow(axc, 2.498, 0.58, 2.094, 0.0)
oarrow(axc, 3.877, 0.574, 4.189, 0.0)
oarrow(axc, 3.085, 0.40, 3.142, 0.0)
axc.text(1.046, 0.86, r'$\frac{I(\omega)}{I_{max}}$', transform=axc.transAxes, ha='center',
         va='center', fontsize=11, color=TXT)
axc.text(0.5, -0.235, r'Dimensionless frequency $\mathrm{\gamma}_{L}\mathrm{\omega}$',
         transform=axc.transAxes, ha='center', va='center', fontsize=8.3, color=TXT)

# ---- (d)
axd = add_ax(482.7, 588.3)
style(axd, 12.566, TICKS_D)
axd.set_ylim(8.0, -1.08)
draw_bands(axd, ROWS_D)
flabels(axd)
color_ticks(axd, CANON_D, RED)
color_ticks(axd, GREEN_D, GREEN)
axd.axvline(6.2832, color='k', lw=1.1, ls=(0, (3, 2)), zorder=5)
for x in CANON_D:
    red_arrow(axd, x, 1.152, 0.953)

# ---- (e)
axe = add_ax(629, 734.3)
style(axe, 12.566, TICKS_D)
axe.set_ylim(0, 1.0)
axe.plot(E_X, E_Y, color='#111111', lw=1.5, zorder=3)
for x in CANON_D:
    red_arrow(axe, x, 1.164, 0.953)
itext(axe, 2.645, 0.817, 'Fixed point', box=True)
itext(axe, 10.0, 0.817, 'Fixed point', box=True)
itext(axe, 7.652, 0.817, '12-point periodic', ha='right', box=True)
itext(axe, 7.652, 0.696, '6-point periodic', ha='right', box=True)
itext(axe, 7.652, 0.570, '4-point periodic', ha='right', box=True)
itext(axe, 7.652, 0.452, '3-point periodic', ha='right', box=True)
oarrow(axe, 1.676, 0.807, 0.0, 0.0)
oarrow(axe, 11.02, 0.807, 12.566, 0.0)
oarrow(axe, 4.842, 0.807, 2.094, 0.0)
oarrow(axe, 7.784, 0.826, 10.472, 0.0)
oarrow(axe, 4.913, 0.68, 3.142, 0.0)
oarrow(axe, 7.723, 0.68, 9.425, 0.0)
oarrow(axe, 4.995, 0.563, 4.189, 0.0)
oarrow(axe, 7.775, 0.563, 8.378, 0.0)
oarrow(axe, 6.169, 0.405, 6.283, 0.0)
axe.text(1.046, 0.82, r'$\frac{I(\omega)}{I_{max}}$', transform=axe.transAxes, ha='center',
         va='center', fontsize=11, color=TXT)
axe.text(0.5, -0.24, r'Dimensionless frequency $\mathrm{\gamma}_{L}\mathrm{\omega}$',
         transform=axe.transAxes, ha='center', va='center', fontsize=8.3, color=TXT)

# panel letters
for lab, y in [('(a)', 42), ('(b)', 189), ('(c)', 335), ('(d)', 490), ('(e)', 636)]:
    fig.text(26 / 508, 1 - y / 767, lab, ha='center', va='center', fontsize=10, color=TXT)

fig.savefig('out.png', dpi=100, facecolor='white')
